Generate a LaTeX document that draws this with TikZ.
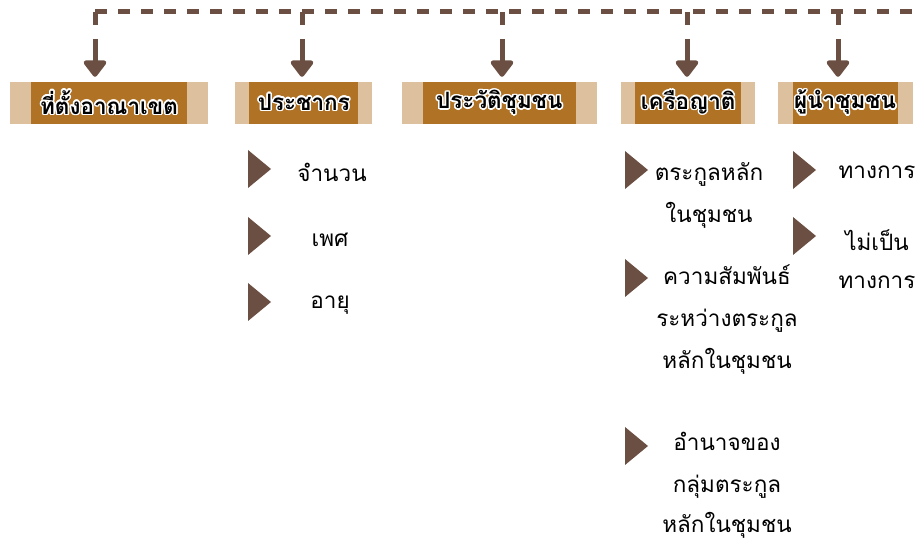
\documentclass[tikz,border=0pt]{standalone}
\usepackage{fontspec}
\newfontfamily\thai[Script=Thai]{Loma}
\usepackage[copies]{contour}
\contourlength{1.5pt}
\usetikzlibrary{positioning,arrows.meta,calc}
\definecolor{tabdark}{HTML}{B07225}
\definecolor{tablight}{HTML}{DDC09D}
\definecolor{linebrown}{HTML}{6B4F42}

\begin{document}
\begin{tikzpicture}[
    x=1pt, y=-1pt,
    tab/.style 2 args={rectangle, fill=tablight, minimum width=#1, minimum height=42pt, inner sep=0pt,
        font=\thai\bfseries\fontsize{22.5}{23}\selectfont,
        path picture={\fill[tabdark] ([xshift=#2]path picture bounding box.south west) rectangle ([xshift=-#2]path picture bounding box.north east);}},
    item/.style={align=center, inner sep=0pt, font=\thai\fontsize{22.5}{42}\selectfont},
    dline/.style={linebrown, line width=5pt, dash pattern=on 12pt off 11pt},
    arrow/.style={linebrown, line width=5pt, dash pattern=on 13pt off 14pt on 200pt off 0pt,
        shorten >=5pt, -{Triangle[width=26pt,length=18pt,round]}},
    bullet/.pic={\fill[linebrown] (0,-19) -- (23,0) -- (0,19) -- cycle;}
]
\useasboundingbox (0,0) rectangle (922,545);

% Header tabs
\node[tab={198pt}{21pt}] (location) at (109,103) {\contour{white}{ที่ตั้งอาณาเขต}};
\node[tab={137pt}{14pt}, right=27pt of location] (population) {\contour{white}{ประชากร}};
\node[tab={195pt}{21pt}, right=29pt of population] (history) {\contour{white}{ประวัติชุมชน}};
\node[tab={134pt}{14pt}, right=24pt of history] (kinship) {\contour{white}{เครือญาติ}};
\node[tab={135pt}{15pt}, right=22pt of kinship] (leader) {\contour{white}{ผู้นำชุมชน}};

% Top bus
\coordinate (drop1) at (95,12);
\coordinate (drop2) at (302,12);
\coordinate (drop3) at (502,12);
\coordinate (drop4) at (687,12);
\coordinate (drop5) at (838,12);
\coordinate (busend) at (930,12);
\draw[dline] (drop1) -- (busend);

% Drops to the tabs
\draw[arrow] (drop1) -- (drop1 |- location.north);
\draw[arrow] (drop2) -- (drop2 |- population.north);
\draw[arrow] (drop3) -- (drop3 |- history.north);
\draw[arrow] (drop4) -- (drop4 |- kinship.north);
\draw[arrow] (drop5) -- (drop5 |- leader.north);

% Population items
\pic at (248,169) {bullet};
\pic at (248,236) {bullet};
\pic at (248,302) {bullet};
\node[item] (count) at (332,172) {จำนวน};
\node[item] (sex) at (330,240) {เพศ};
\node[item] (age) at (330,305) {อายุ};

% Kinship items
\pic at (625,170) {bullet};
\pic at (625,278) {bullet};
\pic at (625,446) {bullet};
\node[item] (clan) at (709,195) {ตระกูลหลัก\\ในชุมชน};
\node[item] (relation) at (727,320) {ความสัมพันธ์\\ระหว่างตระกูล\\หลักในชุมชน};
\node[item] (power) at (727,485) {อำนาจของ\\กลุ่มตระกูล\\[-2pt]หลักในชุมชน};

% Leader items
\pic at (793,170) {bullet};
\pic at (793,236) {bullet};
\node[item] (formal) at (877,172) {ทางการ};
\node[item] (informal) at (877,259) {ไม่เป็น\\[-4pt]ทางการ};

\end{tikzpicture}
\end{document}
